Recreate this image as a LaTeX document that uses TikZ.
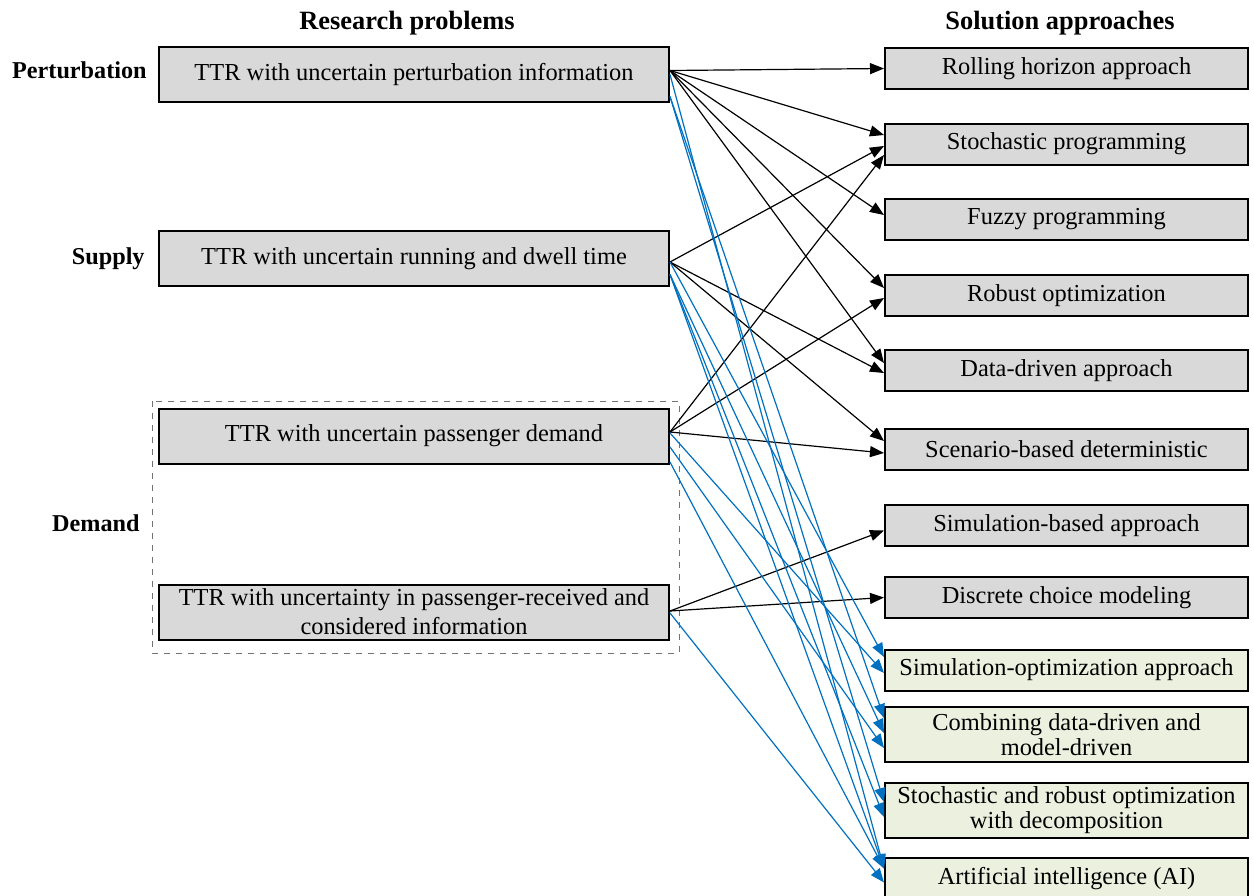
\documentclass[tikz,border=0pt]{standalone}
\usepackage{fontspec}
\setmainfont{Liberation Serif}
\usetikzlibrary{arrows.meta,calc}
\definecolor{boxgray}{HTML}{D9D9D9}
\definecolor{boxgreen}{HTML}{EBF1DE}
\definecolor{lineblue}{HTML}{0070C0}
\begin{document}
\begin{tikzpicture}[x=0.5pt,y=-0.5pt,
  basebox/.style={draw=black, line width=1pt, inner sep=0pt, align=center,
    font=\fontsize{12.2}{14.5}\selectfont},
  lbox/.style={basebox, fill=boxgray, minimum width=255pt, minimum height=27.5pt},
  rbox/.style={basebox, fill=boxgray, minimum width=181.5pt, minimum height=20.5pt},
  gbox/.style={basebox, fill=boxgreen, minimum width=181.5pt, minimum height=20.5pt},
  gtall/.style={gbox, minimum height=27.5pt, font=\fontsize{12.2}{12.4}\selectfont},
  header/.style={font=\fontsize{13.2}{15}\selectfont\bfseries, inner sep=0pt},
  catlabel/.style={font=\fontsize{12.1}{14}\selectfont\bfseries, inner sep=0pt, anchor=east},
  blk/.style={draw=black, line width=0.6pt, -{Triangle[length=7pt,width=5.5pt]}},
  blu/.style={draw=lineblue, line width=0.6pt, -{Triangle[length=7pt,width=5.5pt]}}
]
\useasboundingbox (0,0) rectangle (1254,895);

% headers
\node[header] (h1) at (407,23) {Research problems};
\node[header] (h2) at (1060,23) {Solution approaches};

% category labels
\node[catlabel] (cp) at (147,70) {Perturbation};
\node[catlabel] (cs) at (145,259) {Supply};
\node[catlabel] (cd) at (140,523) {Demand};

% dashed demand group
\draw[draw=black!55, dashed, line width=0.5pt] (152,401) rectangle (679,653);

% left boxes
\node[lbox] (P) at (414,74.5) {TTR with uncertain perturbation information};
\node[lbox] (S) at (414,258.5) {TTR with uncertain running and dwell time};
\node[lbox] (D1) at (414,436) {TTR with uncertain passenger demand};
\node[lbox] (D2) at (414,612) {TTR with uncertainty in passenger-received and\\considered information};

% right boxes
\node[rbox] (R1) at (1066.5,68.5) {Rolling horizon approach};
\node[rbox] (R2) at (1066.5,144) {Stochastic programming};
\node[rbox] (R3) at (1066.5,219.5) {Fuzzy programming};
\node[rbox] (R4) at (1066.5,295.5) {Robust optimization};
\node[rbox] (R5) at (1066.5,370.5) {Data-driven approach};
\node[rbox] (R6) at (1066.5,449.5) {Scenario-based deterministic};
\node[rbox] (R7) at (1066.5,525.5) {Simulation-based approach};
\node[rbox] (R8) at (1066.5,597.5) {Discrete choice modeling};
\node[gbox] (G1) at (1066.5,670) {Simulation-optimization approach};
\node[gtall] (G2) at (1066.5,734.5) {Combining data-driven and\\model-driven};
\node[gtall] (G3) at (1066.5,810.5) {Stochastic and robust optimization\\with decomposition};
\node[gbox] (G4) at (1066.5,878.5) {Artificial intelligence (AI)};

% black connectors
\draw[blk] ($(P.east)+(0,-4)$) -- (R1.west);
\draw[blk] ($(P.east)+(0,-4)$) -- ($(R2.west)+(0,-9)$);
\draw[blk] ($(P.east)+(0,-4)$) -- ($(R3.west)+(0,-4.5)$);
\draw[blk] ($(P.east)+(0,-4)$) -- ($(R4.west)+(0,-7.5)$);
\draw[blk] ($(P.east)+(0,-4)$) -- ($(R5.west)+(0,-7.5)$);

\draw[blk] ($(S.east)+(0,3.5)$) -- ($(R2.west)+(0,2)$);
\draw[blk] ($(S.east)+(0,3.5)$) -- ($(R5.west)+(0,2.5)$);
\draw[blk] ($(S.east)+(0,3.5)$) -- ($(R6.west)+(0,-8.5)$);

\draw[blk] ($(D1.east)+(0,-4)$) -- ($(R2.west)+(0,11)$);
\draw[blk] ($(D1.east)+(0,-4)$) -- ($(R4.west)+(0,2.5)$);
\draw[blk] ($(D1.east)+(0,-4)$) -- ($(R6.west)+(0,3.5)$);

\draw[blk] ($(D2.east)+(0,-1)$) -- ($(R7.west)+(0,5)$);
\draw[blk] ($(D2.east)+(0,-1)$) -- (R8.west);

% blue connectors
\draw[blu] (P.east) -- ($(G4.west)+(0,-10)$);
\draw[blu] ($(P.east)+(0,22)$) -- ($(G2.west)+(0,-16.5)$);
\draw[blu] ($(P.east)+(0,22)$) -- ($(G3.west)+(0,-8.5)$);

\draw[blu] ($(S.east)+(0,3.5)$) -- ($(G1.west)+(0,-13)$);
\draw[blu] ($(S.east)+(0,16)$) -- ($(G2.west)+(0,-1.5)$);
\draw[blu] ($(S.east)+(0,16)$) -- ($(G3.west)+(0,6.5)$);
\draw[blu] ($(S.east)+(0,16)$) -- ($(G4.west)+(0,-10)$);

\draw[blu] ($(D1.east)+(0,-3)$) -- ($(G1.west)+(0,3)$);
\draw[blu] ($(D1.east)+(0,11)$) -- ($(G2.west)+(0,13.5)$);
\draw[blu] ($(D1.east)+(0,26)$) -- ($(G4.west)+(0,-10)$);

\draw[blu] ($(D2.east)+(0,1)$) -- ($(G4.west)+(0,4)$);
\end{tikzpicture}
\end{document}
